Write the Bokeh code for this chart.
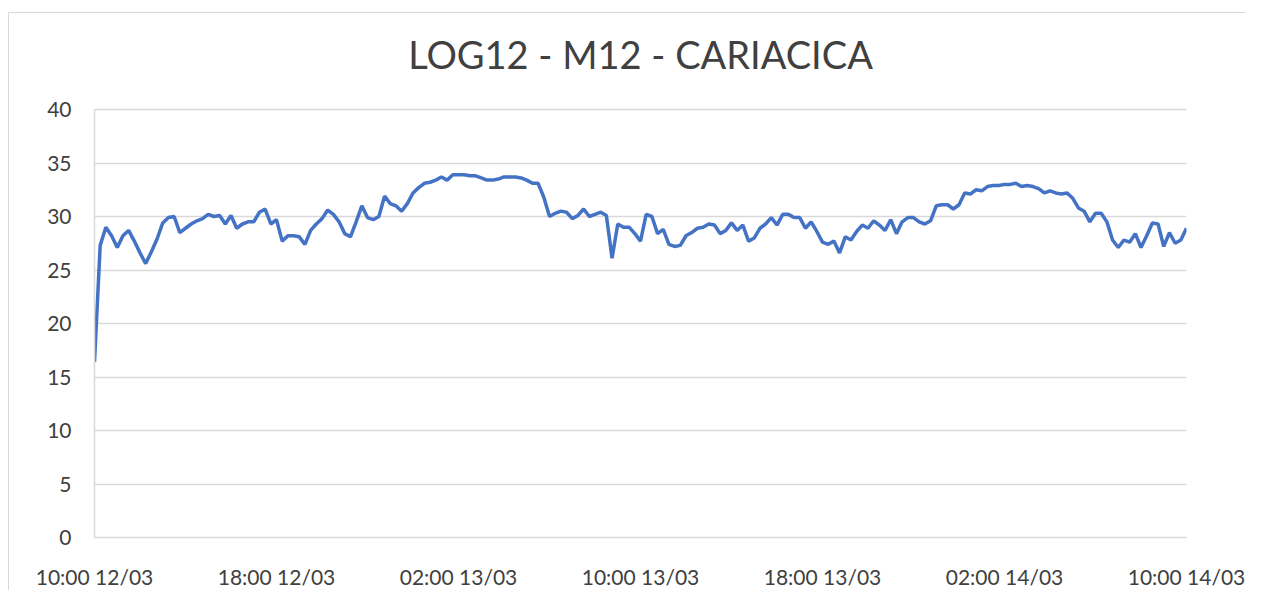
import pandas as pd
from bokeh.plotting import figure
from bokeh.models import Range1d, FixedTicker, DatetimeTickFormatter, ColumnDataSource, Label
from bokeh.embed import file_html
from bokeh.resources import INLINE

title_text = "LOG12 - M12 - CARIACICA"
start_time = "2021-03-12 10:00"
end_time = "2021-03-14 10:00"
step = "15min"
tick_step = "8h"
y_ticks = [0, 5, 10, 15, 20, 25, 30, 35, 40]

temps = [
    16.4, 27.3, 29.0, 28.2, 27.1, 28.2, 28.7, 27.7, 26.6, 25.6,
    26.7, 27.9, 29.4, 29.9, 30.0, 28.5, 28.9, 29.3, 29.6, 29.8,
    30.2, 30.0, 30.1, 29.3, 30.1, 28.9, 29.3, 29.5, 29.5, 30.4,
    30.7, 29.3, 29.7, 27.7, 28.2, 28.2, 28.1, 27.4, 28.7, 29.3,
    29.8, 30.6, 30.2, 29.5, 28.4, 28.1, 29.5, 31.0, 29.9, 29.7,
    30.0, 31.9, 31.2, 31.0, 30.5, 31.2, 32.2, 32.7, 33.1, 33.2,
    33.4, 33.7, 33.4, 33.9, 33.9, 33.9, 33.8, 33.8, 33.6, 33.4,
    33.4, 33.5, 33.7, 33.7, 33.7, 33.6, 33.4, 33.1, 33.1, 31.8,
    30.0, 30.3, 30.5, 30.4, 29.8, 30.1, 30.7, 30.0, 30.2, 30.4,
    30.1, 26.1, 29.3, 29.0, 29.0, 28.4, 27.7, 30.2, 30.0, 28.4,
    28.8, 27.4, 27.2, 27.3, 28.2, 28.5, 28.9, 29.0, 29.3, 29.2,
    28.4, 28.7, 29.4, 28.7, 29.2, 27.7, 28.0, 28.9, 29.3, 29.9,
    29.2, 30.2, 30.2, 29.9, 29.9, 28.9, 29.5, 28.6, 27.6, 27.4,
    27.7, 26.6, 28.1, 27.8, 28.6, 29.2, 28.9, 29.6, 29.2, 28.7,
    29.7, 28.4, 29.5, 29.9, 29.9, 29.5, 29.3, 29.6, 31.0, 31.1,
    31.1, 30.7, 31.1, 32.2, 32.1, 32.5, 32.4, 32.8, 32.9, 32.9,
    33.0, 33.0, 33.1, 32.8, 32.9, 32.8, 32.6, 32.2, 32.4, 32.2,
    32.1, 32.2, 31.7, 30.8, 30.5, 29.5, 30.3, 30.3, 29.5, 27.8,
    27.1, 27.8, 27.6, 28.4, 27.1, 28.2, 29.4, 29.3, 27.2, 28.5,
    27.5, 27.8, 28.9,
]

times = pd.date_range(start_time, periods=len(temps), freq=step)
tick_times = pd.date_range(start_time, end_time, freq=tick_step)
tick_ms = [t.timestamp() * 1000 for t in tick_times]

source = ColumnDataSource(data=dict(t=times, v=temps))

FONT = "Lato"
GRID = "#d9d9d9"

# layout (pixels): plot frame extends up into the title area; the axis/grid stop at 40
FRAME_TOP_PAD = 5
AXIS_TOP_PX = 109 - 13 - FRAME_TOP_PAD   # distance from frame top to the "40" line
AXIS_H_PX = 428                           # height of the 0..40 band
TITLE_GAP_PX = 56                         # title anchor above the "40" line
y_max = y_ticks[-1]
y_top = y_max * (AXIS_H_PX + AXIS_TOP_PX) / AXIS_H_PX

p = figure(
    width=1237, height=578,
    x_axis_type="datetime",
    x_range=Range1d(times[0], times[-1]),
    y_range=Range1d(0, y_top),
    output_backend="svg",
    toolbar_location=None,
    min_border_left=85, min_border_right=60,
    min_border_top=FRAME_TOP_PAD, min_border_bottom=44,
)
p.margin = (12, 0, 0, 8)
p.styles = {"border-top": "1px solid #d9d9d9", "border-left": "1px solid #d9d9d9"}

# chart title, centred over the plot
mid_ms = (times[0].timestamp() + times[-1].timestamp()) / 2 * 1000
title = Label(
    x=mid_ms, y=y_max + TITLE_GAP_PX / (AXIS_H_PX / y_max),
    text=title_text, text_align="center", text_baseline="alphabetic",
    text_font=FONT, text_font_size="38px", text_color="#404040",
)
p.add_layout(title)

p.line("t", "v", source=source, line_color="#4472C4", line_width=3.5)

p.outline_line_color = None
p.xgrid.grid_line_color = None
p.ygrid.grid_line_color = GRID
p.ygrid.grid_line_width = 1.5
p.yaxis.ticker = FixedTicker(ticks=y_ticks)
p.yaxis.bounds = (0, y_max)
p.xaxis.ticker = FixedTicker(ticks=tick_ms)
fmt = "%H:%M %d/%m"
p.xaxis.formatter = DatetimeTickFormatter(
    milliseconds=fmt, seconds=fmt, minsec=fmt, minutes=fmt,
    hourmin=fmt, hours=fmt, days=fmt, months=fmt, years=fmt,
)

for ax in (p.xaxis[0], p.yaxis[0]):
    ax.axis_line_color = GRID
    ax.axis_line_width = 1.5
    ax.major_tick_line_color = None
    ax.minor_tick_line_color = None
    ax.major_label_text_font = FONT
    ax.major_label_text_font_size = "21px"
    ax.major_label_text_color = "#404040"

p.xaxis.major_label_standoff = 20
p.yaxis.major_label_standoff = 17

open("out.html", "w").write(file_html(p, INLINE))
